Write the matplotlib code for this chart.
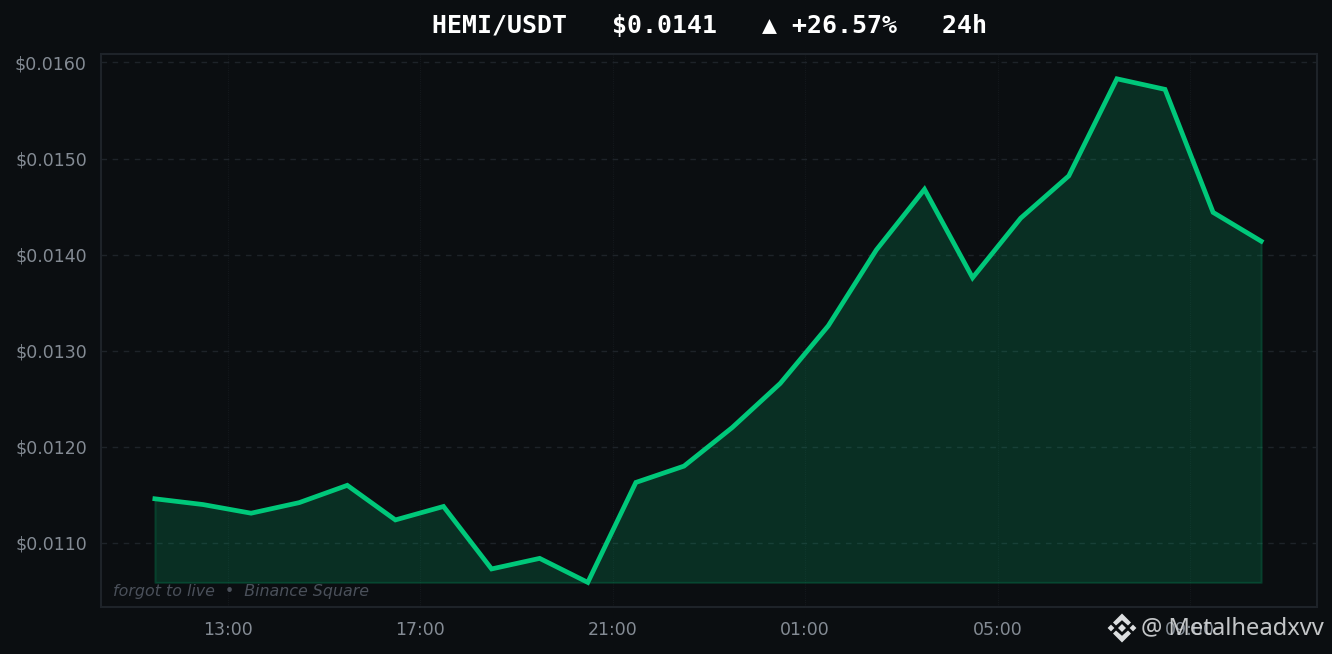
import matplotlib
matplotlib.use("Agg")
import matplotlib.pyplot as plt
from matplotlib.patches import Polygon

hours = [11.48 + i for i in range(24)]
prices = [.01146, .01140, .01131, .01142, .01160, .01124, .01138, .01073,
          .01084, .01059, .01163, .01180, .01220, .01266, .01326, .01405,
          .01468, .01376, .01438, .01482, .01583, .01572, .01444, .01414]
y_ticks = [.0110, .0120, .0130, .0140, .0150, .0160]
x_ticks = [13, 17, 21, 25, 29, 33]
x_labels = ["13:00", "17:00", "21:00", "01:00", "05:00", "09:00"]

BG = "#0b0e11"
GREEN = "#00c87a"
W, H = 1332, 654
fig = plt.figure(figsize=(W / 100, H / 100), dpi=100, facecolor=BG)
ax = fig.add_axes([101 / W, 1 - 607 / H, (1317 - 101) / W, (607 - 54) / H], facecolor=BG)

base = min(prices)
ax.fill_between(hours, prices, base, color=GREEN, alpha=0.18, lw=1.5, zorder=2)
ax.plot(hours, prices, color=GREEN, lw=3.4, solid_joinstyle="miter", zorder=3)

ax.set_xlim(10.36, 35.64)
ax.set_ylim(.010334, .016088)
ax.set_xticks(x_ticks, x_labels)
ax.set_yticks(y_ticks, [f"${v:.4f}" for v in y_ticks])
ax.tick_params(length=0, labelsize=12.5, labelcolor="#848b94")
ax.tick_params(axis="y", pad=10.2)
ax.tick_params(axis="x", pad=10)
ax.grid(axis="y", color="#1e2329", lw=1, ls=(0, (4, 4)), zorder=1)
ax.grid(axis="x", color="#1e2329", lw=0.6, ls=":", alpha=0.7, zorder=1)
for s in ax.spines.values():
    s.set_color("#1e2329")
    s.set_linewidth(1.5)

fig.text(709 / W, 1 - 26 / H, "HEMI/USDT   $0.0141   ▲ +26.57%   24h", color="white",
         family="DejaVu Sans Mono", weight="bold", fontsize=17.9, ha="center", va="center")
ax.text(113 / W, 1 - 591.5 / H, "forgot to live  •  Binance Square", transform=fig.transFigure,
        color="#4a505a", fontsize=11.4, style="italic", ha="left", va="center", zorder=4)

# watermark: Binance logo + handle
LOGO = "#dcdee0"
def logo_part(pts):
    fig.add_artist(Polygon([((1122 + dx) / W, 1 - (628 + dy) / H) for dx, dy in pts],
                           closed=True, transform=fig.transFigure, fc=LOGO, ec="none"))
def diamond(cx, r):
    return [(cx, -r), (cx + r, 0), (cx, r), (cx - r, 0)]
logo_part(diamond(0, 4))
logo_part(diamond(-11, 3.4))
logo_part(diamond(11, 3.4))
for sign in (-1, 1):
    logo_part([(x, sign * y) for x, y in
               [(0, 14.5), (9, 5.5), (6, 2.5), (0, 7.8), (-6, 2.5), (-9, 5.5)]])
fig.text(1141 / W, 1 - 628 / H, "@ Metalheadxvv", color="#d4d6d8", family="Noto Sans",
         fontsize=17.1, ha="left", va="center", alpha=0.92, zorder=10)

fig.savefig("out.png", dpi=100, facecolor=BG)
